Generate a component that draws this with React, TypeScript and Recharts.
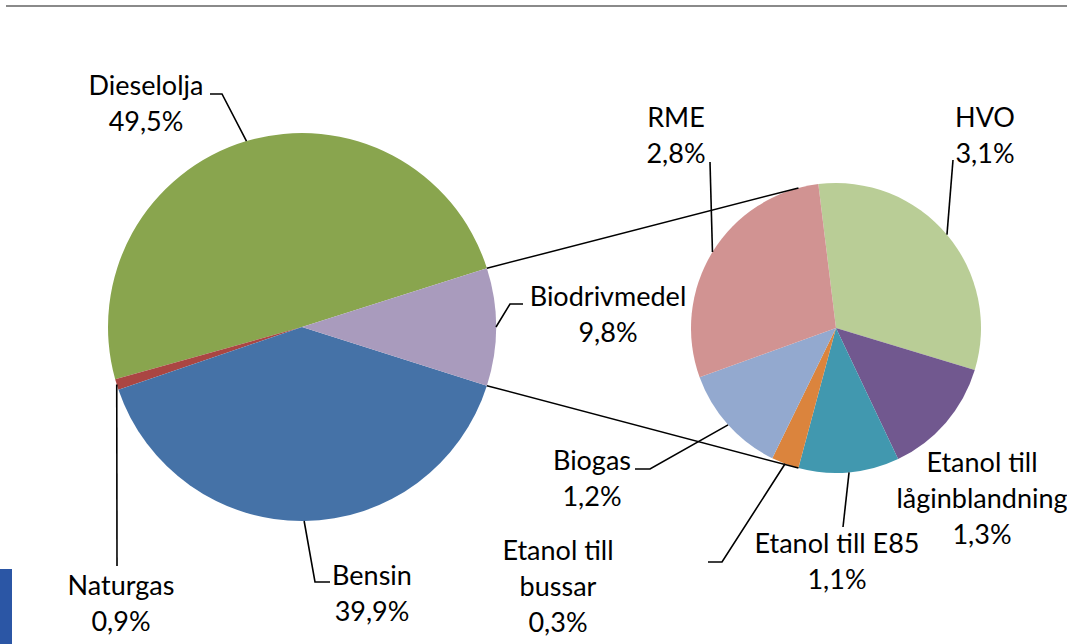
import { Pie, PieChart, Cell } from 'recharts'

const mainNames = ['Dieselolja', 'Naturgas', 'Bensin', 'Biodrivmedel']
const mainValues = [49.5, 0.9, 39.9, 9.8]
const mainColors = ['#89a54e', '#aa4643', '#4572a7', '#a99bbd']

const subNames = [
  'HVO',
  'Etanol till låginblandning',
  'Etanol till E85',
  'Etanol till bussar',
  'Biogas',
  'RME',
]
const subValues = [3.1, 1.3, 1.1, 0.3, 1.2, 2.8]
const subColors = ['#b9cd96', '#71588f', '#4198af', '#db843d', '#93a9cf', '#d19392']

const mainData = mainNames.map((name, i) => ({ name, value: mainValues[i] }))
const subData = subNames.map((name, i) => ({ name, value: subValues[i] }))

// pie geometry
const MAIN = { cx: 302, cy: 327, r: 194 }
const SUB = { cx: 836, cy: 328, r: 145 }
const mainStart = ((mainValues[3] / mainValues.reduce((a, b) => a + b, 0)) * 360) / 2
const subStart = 97

// label placement: x = text centre, y = first baseline, leader = points after the slice edge
const labelLayout: Record<string, { x: number; y: number; lines: string[]; leader: number[][] }> = {
  Dieselolja: { x: 146, y: 95, lines: ['Dieselolja'], leader: [[222, 94], [210, 94]] },
  Naturgas: { x: 121, y: 595, lines: ['Naturgas'], leader: [[117, 566]] },
  Bensin: { x: 372, y: 585, lines: ['Bensin'], leader: [[315, 582], [330, 582]] },
  Biodrivmedel: { x: 608, y: 306, lines: ['Biodrivmedel'], leader: [[510, 304], [523, 304]] },
  RME: { x: 676, y: 127, lines: ['RME'], leader: [[710, 162]] },
  HVO: { x: 985, y: 127, lines: ['HVO'], leader: [[953, 160]] },
  Biogas: { x: 592, y: 470, lines: ['Biogas'], leader: [[650, 469], [635, 469]] },
  'Etanol till bussar': { x: 558, y: 560, lines: ['Etanol till', 'bussar'], leader: [[722, 562], [708, 562]] },
  'Etanol till E85': { x: 837, y: 553, lines: ['Etanol till E85'], leader: [[843, 527]] },
  'Etanol till låginblandning': { x: 982, y: 472, lines: ['Etanol till', 'låginblandning'], leader: [] },
}

const RAD = Math.PI / 180
const polar = (cx: number, cy: number, r: number, a: number) => [cx + r * Math.cos(a * RAD), cy - r * Math.sin(a * RAD)]
const fmt = (v: number) => `${v.toFixed(1).replace('.', ',')}%`

function renderLabel(props: any) {
  const { cx, cy, midAngle, outerRadius, name, value, startAngle, endAngle } = props
  const lay = labelLayout[name]
  if (!lay) return null
  const lines = [...lay.lines, fmt(value)]
  const edge = polar(cx, cy, outerRadius, midAngle)
  const pts = lay.leader.length ? [edge, ...lay.leader] : []
  let connectors = null
  if (name === 'Biodrivmedel') {
    const p1 = polar(cx, cy, outerRadius, startAngle)
    const p2 = polar(cx, cy, outerRadius, endAngle)
    const [a, b] = p1[1] < p2[1] ? [p1, p2] : [p2, p1]
    const top = polar(SUB.cx, SUB.cy, SUB.r, 105)
    const bot = polar(SUB.cx, SUB.cy, SUB.r, -105)
    connectors = (
      <g stroke="#000" strokeWidth={1.5}>
        <line x1={a[0]} y1={a[1]} x2={top[0]} y2={top[1]} />
        <line x1={b[0]} y1={b[1]} x2={bot[0]} y2={bot[1]} />
      </g>
    )
  }
  return (
    <g>
      {connectors}
      {pts.length > 0 && (
        <polyline points={pts.map((p) => p.join(',')).join(' ')} fill="none" stroke="#000" strokeWidth={1.6} />
      )}
      <text x={lay.x} y={lay.y} textAnchor="middle" fill="#000" fontFamily="Lato, sans-serif" fontSize={27}>
        {lines.map((t, i) => (
          <tspan key={i} x={lay.x} dy={i === 0 ? 0 : 36}>
            {t}
          </tspan>
        ))}
      </text>
    </g>
  )
}

export default function App() {
  return (
    <div style={{ position: 'absolute', left: 0, top: 0, width: 1067, height: 644, background: '#fff', overflow: 'hidden' }}>
      <div style={{ position: 'absolute', left: 6, top: 5, width: 1061, height: 2, background: '#8a8a8a' }} />
      <div style={{ position: 'absolute', left: 0, top: 569, width: 12, height: 75, background: '#2b56a5' }} />
      <PieChart
        width={1067}
        height={644}
        margin={{ top: 0, right: 0, bottom: 0, left: 0 }}
        style={{ position: 'absolute', left: 0, top: 0 }}
      >
        <Pie
          data={mainData}
          dataKey="value"
          nameKey="name"
          cx={MAIN.cx}
          cy={MAIN.cy}
          outerRadius={MAIN.r}
          startAngle={mainStart}
          endAngle={mainStart + 360}
          stroke="none"
          label={renderLabel}
          labelLine={false}
          isAnimationActive={false}
        >
          {mainData.map((d, i) => (
            <Cell key={d.name} fill={mainColors[i]} />
          ))}
        </Pie>
        <Pie
          data={subData}
          dataKey="value"
          nameKey="name"
          cx={SUB.cx}
          cy={SUB.cy}
          outerRadius={SUB.r}
          startAngle={subStart}
          endAngle={subStart - 360}
          stroke="none"
          label={renderLabel}
          labelLine={false}
          isAnimationActive={false}
        >
          {subData.map((d, i) => (
            <Cell key={d.name} fill={subColors[i]} />
          ))}
        </Pie>
      </PieChart>
    </div>
  )
}
